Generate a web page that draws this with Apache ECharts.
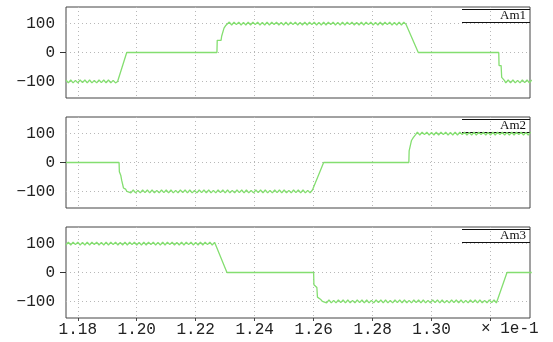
<!DOCTYPE html>
<html><head><meta charset="utf-8">
<script src="https://cdn.jsdelivr.net/npm/echarts@6/dist/echarts.min.js"></script>
<style>html,body{margin:0;padding:0;background:#fff}#c{width:553px;height:342px}</style>
</head><body><div id="c"></div>
<script>
// x ticks (time, ×1e-1)
var xTicks = [1.18, 1.20, 1.22, 1.24, 1.26, 1.28, 1.30, 1.32];
var xLabelTicks = [1.18, 1.20, 1.22, 1.24, 1.26, 1.28, 1.30];
var yTicks = [-100, 0, 100];
var seriesNames = ['Am1', 'Am2', 'Am3'];
var xUnitText = '\u00d7 1e-1';

var am1 = [
[1.1760,-95],[1.1768,-105],[1.1776,-95],[1.1784,-105],[1.1792,-96],[1.1800,-105],[1.1808,-95],[1.1816,-104],[1.1824,-95],[1.1832,-105],[1.1840,-95],[1.1848,-105],[1.1856,-96],[1.1864,-105],[1.1872,-95],[1.1880,-104],[1.1888,-95],[1.1896,-105],[1.1904,-95],[1.1912,-105],[1.1920,-96],[1.1928,-105],
[1.1935,-100],[1.1966,0],[1.2272,0],[1.2273,42],[1.2286,42],[1.2288,56],[1.2294,56],[1.2296,84],[1.2301,92],
[1.2306,95],[1.2314,105],[1.2322,95],[1.2330,105],[1.2338,96],[1.2346,105],[1.2354,95],[1.2362,104],[1.2370,95],[1.2378,105],[1.2386,95],[1.2394,105],[1.2402,96],[1.2410,105],[1.2418,95],[1.2426,104],[1.2434,95],[1.2442,105],[1.2450,95],[1.2458,105],[1.2466,96],[1.2474,105],[1.2482,95],[1.2490,104],[1.2498,95],[1.2506,105],[1.2514,95],[1.2522,105],[1.2530,96],[1.2538,105],[1.2546,95],[1.2554,104],[1.2562,95],[1.2570,105],[1.2578,95],[1.2586,105],[1.2594,96],[1.2602,105],[1.2610,95],[1.2618,104],[1.2626,95],[1.2634,105],[1.2642,95],[1.2650,105],[1.2658,96],[1.2666,105],[1.2674,95],[1.2682,104],[1.2690,95],[1.2698,105],[1.2706,95],[1.2714,105],[1.2722,96],[1.2730,105],[1.2738,95],[1.2746,104],[1.2754,95],[1.2762,105],[1.2770,95],[1.2778,105],[1.2786,96],[1.2794,105],[1.2802,95],[1.2810,104],[1.2818,95],[1.2826,105],[1.2834,95],[1.2842,105],[1.2850,96],[1.2858,105],[1.2866,95],[1.2874,104],[1.2882,95],[1.2890,105],[1.2898,95],[1.2906,105],[1.2914,96],[1.2920,100],
[1.2955,0],[1.3228,0],[1.3229,-45],[1.3236,-45],[1.3238,-86],[1.3247,-96],
[1.3252,-105],[1.3260,-95],[1.3268,-105],[1.3276,-95],[1.3284,-105],[1.3292,-96],[1.3300,-105],[1.3308,-95],[1.3316,-104],[1.3324,-95],[1.3332,-105],[1.3340,-95]
];

var am2 = [
[1.1760,0],[1.1940,0],[1.1941,-32],[1.1946,-45],[1.1949,-62],[1.1955,-88],[1.1962,-92],[1.1967,-100],
[1.1972,-95],[1.1980,-105],[1.1988,-95],[1.1996,-105],[1.2004,-96],[1.2012,-105],[1.2020,-95],[1.2028,-104],[1.2036,-95],[1.2044,-105],[1.2052,-95],[1.2060,-105],[1.2068,-96],[1.2076,-105],[1.2084,-95],[1.2092,-104],[1.2100,-95],[1.2108,-105],[1.2116,-95],[1.2124,-105],[1.2132,-96],[1.2140,-105],[1.2148,-95],[1.2156,-104],[1.2164,-95],[1.2172,-105],[1.2180,-95],[1.2188,-105],[1.2196,-96],[1.2204,-105],[1.2212,-95],[1.2220,-104],[1.2228,-95],[1.2236,-105],[1.2244,-95],[1.2252,-105],[1.2260,-96],[1.2268,-105],[1.2276,-95],[1.2284,-104],[1.2292,-95],[1.2300,-105],[1.2308,-95],[1.2316,-105],[1.2324,-96],[1.2332,-105],[1.2340,-95],[1.2348,-104],[1.2356,-95],[1.2364,-105],[1.2372,-95],[1.2380,-105],[1.2388,-96],[1.2396,-105],[1.2404,-95],[1.2412,-104],[1.2420,-95],[1.2428,-105],[1.2436,-95],[1.2444,-105],[1.2452,-96],[1.2460,-105],[1.2468,-95],[1.2476,-104],[1.2484,-95],[1.2492,-105],[1.2500,-95],[1.2508,-105],[1.2516,-96],[1.2524,-105],[1.2532,-95],[1.2540,-104],[1.2548,-95],[1.2556,-105],[1.2564,-95],[1.2572,-105],[1.2580,-96],[1.2588,-105],[1.2596,-95],
[1.2600,-100],[1.2634,0],[1.2923,0],[1.2924,40],[1.2930,46],[1.2932,76],[1.2938,86],[1.2946,96],
[1.2952,105],[1.2960,95],[1.2968,105],[1.2976,96],[1.2984,105],[1.2992,95],[1.3000,104],[1.3008,95],[1.3016,105],[1.3024,95],[1.3032,105],[1.3040,96],[1.3048,105],[1.3056,95],[1.3064,104],[1.3072,95],[1.3080,105],[1.3088,95],[1.3096,105],[1.3104,96],[1.3112,105],[1.3120,95],[1.3128,104],[1.3136,95],[1.3144,105],[1.3152,95],[1.3160,105],[1.3168,96],[1.3176,105],[1.3184,95],[1.3192,104],[1.3200,95],[1.3208,105],[1.3216,95],[1.3224,105],[1.3232,96],[1.3240,105],[1.3248,95],[1.3256,104],[1.3264,95],[1.3272,105],[1.3280,95],[1.3288,105],[1.3296,96],[1.3304,105],[1.3312,95],[1.3320,104],[1.3328,95],[1.3336,105]
];

var am3 = [
[1.1760,95],[1.1768,105],[1.1776,95],[1.1784,105],[1.1792,96],[1.1800,105],[1.1808,95],[1.1816,104],[1.1824,95],[1.1832,105],[1.1840,95],[1.1848,105],[1.1856,96],[1.1864,105],[1.1872,95],[1.1880,104],[1.1888,95],[1.1896,105],[1.1904,95],[1.1912,105],[1.1920,96],[1.1928,105],[1.1936,95],[1.1944,104],[1.1952,95],[1.1960,105],[1.1968,95],[1.1976,105],[1.1984,96],[1.1992,105],[1.2000,95],[1.2008,104],[1.2016,95],[1.2024,105],[1.2032,95],[1.2040,105],[1.2048,96],[1.2056,105],[1.2064,95],[1.2072,104],[1.2080,95],[1.2088,105],[1.2096,95],[1.2104,105],[1.2112,96],[1.2120,105],[1.2128,95],[1.2136,104],[1.2144,95],[1.2152,105],[1.2160,95],[1.2168,105],[1.2176,96],[1.2184,105],[1.2192,95],[1.2200,104],[1.2208,95],[1.2216,105],[1.2224,95],[1.2232,105],[1.2240,96],[1.2248,105],[1.2256,95],[1.2264,104],
[1.2269,100],[1.2306,0],[1.2600,0],[1.2601,-42],[1.2611,-52],[1.2613,-85],[1.2623,-92],[1.2630,-100],
[1.2636,-95],[1.2644,-105],[1.2652,-95],[1.2660,-105],[1.2668,-96],[1.2676,-105],[1.2684,-95],[1.2692,-104],[1.2700,-95],[1.2708,-105],[1.2716,-95],[1.2724,-105],[1.2732,-96],[1.2740,-105],[1.2748,-95],[1.2756,-104],[1.2764,-95],[1.2772,-105],[1.2780,-95],[1.2788,-105],[1.2796,-96],[1.2804,-105],[1.2812,-95],[1.2820,-104],[1.2828,-95],[1.2836,-105],[1.2844,-95],[1.2852,-105],[1.2860,-96],[1.2868,-105],[1.2876,-95],[1.2884,-104],[1.2892,-95],[1.2900,-105],[1.2908,-95],[1.2916,-105],[1.2924,-96],[1.2932,-105],[1.2940,-95],[1.2948,-104],[1.2956,-95],[1.2964,-105],[1.2972,-95],[1.2980,-105],[1.2988,-96],[1.2996,-105],[1.3004,-95],[1.3012,-104],[1.3020,-95],[1.3028,-105],[1.3036,-95],[1.3044,-105],[1.3052,-96],[1.3060,-105],[1.3068,-95],[1.3076,-104],[1.3084,-95],[1.3092,-105],[1.3100,-95],[1.3108,-105],[1.3116,-96],[1.3124,-105],[1.3132,-95],[1.3140,-104],[1.3148,-95],[1.3156,-105],[1.3164,-95],[1.3172,-105],[1.3180,-96],[1.3188,-105],[1.3196,-95],[1.3204,-104],[1.3212,-95],[1.3220,-105],
[1.3224,-100],[1.3256,0],[1.3340,0]
];

var allSeries = [am1, am2, am3];
var chart = echarts.init(document.getElementById('c'));
var tops = [7, 117, 227];
var H = 91, L = 66, W = 464;
var mono = 'Liberation Mono';
var grids = [], xAxes = [], yAxes = [], series = [], graphics = [];
var gridStyle = {color: '#b8b8b8', width: 1, type: [1, 3]};
for (var i = 0; i < 3; i++) {
  var last = (i === 2);
  grids.push({left: L, top: tops[i], width: W, height: H, show: true, borderColor: '#444', borderWidth: 1, backgroundColor: 'transparent'});
  xAxes.push({
    type: 'value', gridIndex: i, min: 1.176, max: 1.3334, position: 'bottom',
    axisLine: {show: false, onZero: false},
    axisTick: {show: last, customValues: xTicks, length: 3, lineStyle: {color: '#444'}},
    axisLabel: {show: last, customValues: xLabelTicks, margin: 4,
      fontFamily: mono, fontSize: 16, color: '#222',
      formatter: function (v) { return v.toFixed(2); }},
    splitLine: {show: true, lineStyle: gridStyle}
  });
  yAxes.push({
    type: 'value', gridIndex: i, min: -157, max: 157,
    axisLine: {show: false, onZero: false},
    axisTick: {show: false, customValues: yTicks},
    axisLabel: {customValues: yTicks, margin: 11, fontFamily: mono, fontSize: 16, color: '#222',
      formatter: function (v) { return v < 0 ? '\u2212' + Math.abs(v) : String(v); }},
    splitLine: {show: true, lineStyle: gridStyle}
  });
  series.push({
    type: 'line', name: seriesNames[i], xAxisIndex: i, yAxisIndex: i,
    data: allSeries[i], showSymbol: false, symbol: 'none',
    lineStyle: {color: '#84de70', width: 1.3}, clip: true, animation: false
  });
  var t = tops[i];
  graphics.push({type: 'line', shape: {x1: 60, y1: t + H / 2, x2: 66, y2: t + H / 2}, style: {stroke: '#333', lineWidth: 1}});
  graphics.push({type: 'line', shape: {x1: 462, y1: t + 2.5, x2: 530, y2: t + 2.5}, style: {stroke: '#111', lineWidth: 1}});
  graphics.push({type: 'line', shape: {x1: 462, y1: t + 15.5, x2: 530, y2: t + 15.5}, style: {stroke: '#111', lineWidth: 1}});
  graphics.push({type: 'text', x: 526, y: t + 9, style: {text: seriesNames[i], fontFamily: 'Liberation Serif', fontSize: 13, fill: '#111', align: 'right', verticalAlign: 'middle'}});
}
graphics.push({type: 'text', x: 481, y: 329, style: {text: xUnitText, fontFamily: mono, fontSize: 16, fill: '#222', align: 'left', verticalAlign: 'middle'}});
chart.setOption({
  animation: false,
  grid: grids, xAxis: xAxes, yAxis: yAxes, series: series, graphic: graphics
});
</script>
</body></html>
